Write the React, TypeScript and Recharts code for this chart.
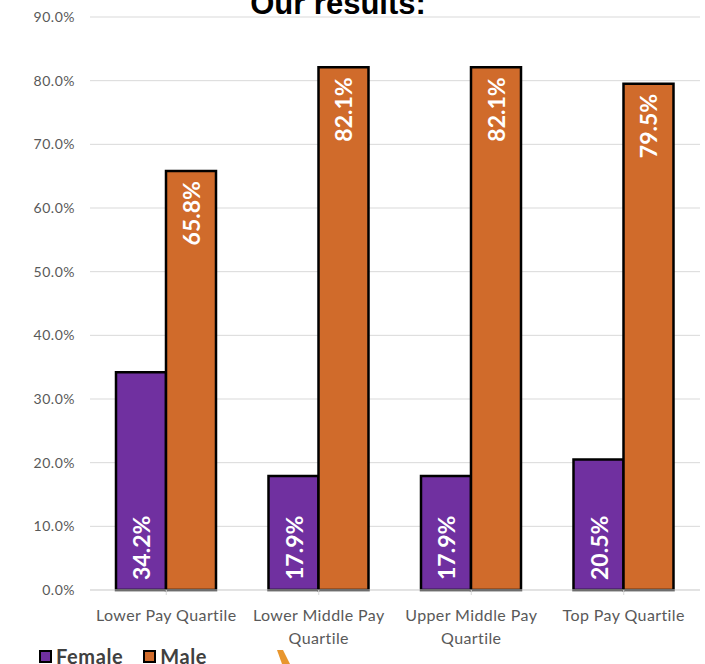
import { BarChart, Bar, XAxis, YAxis, CartesianGrid, LabelList } from "recharts"

const quartiles = ["Lower Pay Quartile", "Lower Middle Pay Quartile", "Upper Middle Pay Quartile", "Top Pay Quartile"]
const female = [34.2, 17.9, 17.9, 20.5]
const male = [65.8, 82.1, 82.1, 79.5]
const yTicks = [0, 10, 20, 30, 40, 50, 60, 70, 80, 90]
const legendItems = ["Female", "Male"]

const PURPLE = "#7030A0"
const ORANGE = "#D06B2B"
const AXIS_TEXT = "#595959"
const FONT = "Lato, 'Open Sans', sans-serif"

const data = quartiles.map((q, i) => ({ name: q, female: female[i], male: male[i] }))
const legendColors = [PURPLE, ORANGE]

function wrapLabel(label: string): string[] {
  const words = label.split(" ")
  if (label.length <= 18) return [label]
  return [words.slice(0, -1).join(" "), words[words.length - 1]]
}

function QuartileTick(props: any) {
  const { x, y, payload } = props
  const lines = wrapLabel(payload.value)
  return (
    <text x={x} y={y} textAnchor="middle" fill={AXIS_TEXT} fontSize={16} letterSpacing={0.4} fontFamily={FONT}>
      {lines.map((line, i) => (
        <tspan key={i} x={x} dy={i === 0 ? "0.75em" : 23}>
          {line}
        </tspan>
      ))}
    </text>
  )
}

function rotatedLabel(position: "top" | "bottom") {
  return (props: any) => {
    const { x, y, width, height, value } = props
    const cx = x + width / 2
    const cy = position === "top" ? y + 10 : y + height - 10
    return (
      <text
        x={cx}
        y={cy}
        transform={`rotate(-90, ${cx}, ${cy})`}
        textAnchor={position === "top" ? "end" : "start"}
        dominantBaseline="central"
        fill="#fff"
        fontSize={23}
        fontWeight="bold"
        fontFamily={FONT}
      >
        {`${Number(value).toFixed(1)}%`}
      </text>
    )
  }
}

export default function App() {
  return (
    <div style={{ position: "absolute", left: 0, top: 0, width: 705, height: 664, overflow: "hidden", background: "#fff" }}>
      <div
        style={{
          position: "absolute",
          left: 0,
          width: 676,
          top: -11,
          textAlign: "center",
          fontFamily: "'Liberation Sans', Arial, sans-serif",
          fontWeight: "bold",
          fontSize: 31,
          lineHeight: "30px",
          color: "#000",
        }}
      >
        Our results:
      </div>
      <BarChart
        width={705}
        height={664}
        data={data}
        margin={{ top: 17, right: 5, bottom: 44, left: 0 }}
        barGap={0}
        barSize={50}
      >
        <CartesianGrid vertical={false} stroke="#d9d9d9" />
        <XAxis
          dataKey="name"
          tick={<QuartileTick />}
          tickLine={{ stroke: "#d9d9d9" }}
          axisLine={{ stroke: "#d9d9d9" }}
          tickSize={5}
          tickMargin={14}
          interval={0}
        />
        <YAxis
          width={90}
          domain={[0, 90]}
          ticks={yTicks}
          tickFormatter={(v: number) => `${v.toFixed(1)}%`}
          axisLine={false}
          tickLine={false}
          tickMargin={9}
          tick={{ fill: AXIS_TEXT, fontSize: 14, fontFamily: FONT, letterSpacing: 0.5 }}
        />
        <Bar dataKey="female" name="Female" fill={PURPLE} stroke="#000" strokeWidth={2.5} isAnimationActive={false}>
          <LabelList dataKey="female" content={rotatedLabel("bottom")} />
        </Bar>
        <Bar dataKey="male" name="Male" fill={ORANGE} stroke="#000" strokeWidth={2.5} isAnimationActive={false}>
          <LabelList dataKey="male" content={rotatedLabel("top")} />
        </Bar>
      </BarChart>
      <div
        style={{
          position: "absolute",
          left: 39,
          top: 645,
          display: "flex",
          gap: 20,
          fontFamily: FONT,
          fontWeight: "bold",
          fontSize: 20,
          lineHeight: "22px",
          letterSpacing: 0.6,
          color: "#404040",
        }}
      >
        {legendItems.map((label, i) => (
          <div key={label} style={{ display: "flex", alignItems: "center", gap: 4 }}>
            <span
              style={{
                display: "inline-block",
                width: 9,
                height: 9,
                background: legendColors[i],
                border: "2px solid #000",
              }}
            />
            <span>{label}</span>
          </div>
        ))}
      </div>
      <svg style={{ position: "absolute", left: 274, top: 650 }} width={20} height={14}>
        <polygon points="3,0 9,0 16,14 8,14" fill="#E8962E" />
      </svg>
    </div>
  )
}
